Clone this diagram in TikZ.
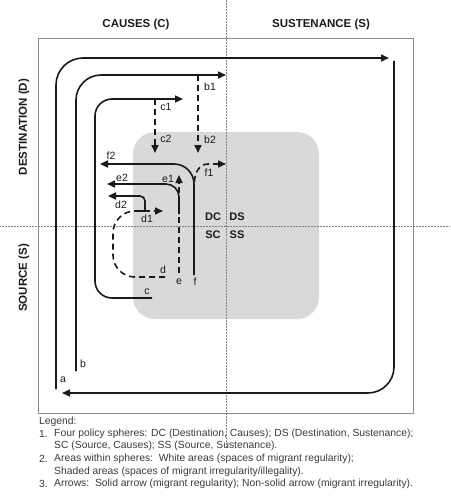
\documentclass[tikz,border=0pt]{standalone}
\usepackage{fontspec}
\setmainfont{Liberation Sans}
\usetikzlibrary{arrows.meta}
\definecolor{areagray}{HTML}{D9D9D9}
\definecolor{boxgray}{HTML}{8C8C8C}
\definecolor{ink}{HTML}{1A1A1A}
\definecolor{legendink}{HTML}{3A3A3A}
\tikzset{
  flow/.style={line width=1.6pt, draw=ink, -{Triangle[length=8pt,width=7pt]}},
  plainline/.style={line width=1.6pt, draw=ink},
  irreg/.style={dash pattern=on 6pt off 4pt},
  guide/.style={draw=gray, line width=0.5pt, dash pattern=on 0.6pt off 0.9pt},
  head/.style={font=\fontsize{11.5}{13}\selectfont\bfseries, text=ink, inner sep=0pt},
  lab/.style={font=\fontsize{10.5}{12}\selectfont, text=ink, inner sep=0pt},
  sphere/.style={font=\fontsize{11}{12}\selectfont\bfseries, text=ink, inner sep=0pt},
  legendtext/.style={font=\fontsize{10.35}{12.5}\selectfont, text=legendink, inner sep=0pt, anchor=west}
}
\begin{document}
\begin{tikzpicture}[x=1pt,y=-1pt]
\useasboundingbox (0,0) rectangle (450,503);
% shaded area
\fill[areagray, rounded corners=22pt] (133,132) rectangle (319,319);
% outer box
\draw[boxgray, line width=0.7pt] (38,38) rectangle (413,413);
% guides
\draw[guide] (226,0) -- (226,448);
\draw[guide] (0,226) -- (450,226);
% headers
\node[head] (hc) at (136,25) {CAUSES (C)};
\node[head] (hs) at (321,25) {SUSTENANCE (S)};
\node[head, rotate=90] (hd) at (24,127) {DESTINATION (D)};
\node[head, rotate=90] (hso) at (24,278) {SOURCE (S)};
% spheres
\node[sphere] (dc) at (213,217) {DC};
\node[sphere] (ds) at (237,217) {DS};
\node[sphere] (sc) at (213,235) {SC};
\node[sphere] (ss) at (237,235) {SS};
% coordinates
\coordinate (a0) at (56,389);
\coordinate (a1) at (56,58);
\coordinate (a2) at (389,58);
\coordinate (a3) at (394,61);
\coordinate (a4) at (394,393);
\coordinate (a5) at (62,393);
\coordinate (b0) at (76,371);
\coordinate (b1c) at (76,75);
\coordinate (b2c) at (226,75);
\coordinate (bb0) at (198,75);
\coordinate (bb1) at (198,153);
\coordinate (c0) at (152,298);
\coordinate (c1c) at (95,298);
\coordinate (c2c) at (95,99);
\coordinate (c3c) at (183,99);
\coordinate (cc0) at (155,99);
\coordinate (cc1) at (155,153);
\coordinate (f0) at (194,275);
\coordinate (f1c) at (194,164);
\coordinate (f2c) at (100,164);
\coordinate (ff0) at (194.5,182);
\coordinate (ff1) at (208,164);
\coordinate (ff2) at (226,164);
\coordinate (e0) at (179,273);
\coordinate (e1c) at (179,175);
\coordinate (ee0) at (179,214);
\coordinate (ee1) at (179,184);
\coordinate (ee2) at (107,184);
\coordinate (d0) at (165,277);
\coordinate (d1c) at (113,277);
\coordinate (d2c) at (113,211);
\coordinate (d3c) at (163,211);
\coordinate (dd0) at (145,211);
\coordinate (dd1) at (145,196);
\coordinate (dd2) at (108,196);
\coordinate (tk0) at (139,211);
\coordinate (tk1) at (148,211);
% paths
\draw[flow, rounded corners=27pt] (a0) -- (a1) -- (a2);
\draw[flow, rounded corners=26pt] (a3) -- (a4) -- (a5);
\draw[flow, rounded corners=25pt] (b0) -- (b1c) -- (b2c);
\draw[flow, irreg] (bb0) -- (bb1);
\draw[flow, rounded corners=17pt] (c0) -- (c1c) -- (c2c) -- (c3c);
\draw[flow, irreg] (cc0) -- (cc1);
\draw[flow, rounded corners=20pt] (f0) -- (f1c) -- (f2c);
\draw[flow, irreg] (ff0) to[out=90,in=180] (ff1) -- (ff2);
\draw[flow, irreg] (e0) -- (e1c);
\draw[flow, rounded corners=13pt] (ee0) -- (ee1) -- (ee2);
\draw[flow, irreg, rounded corners=22pt] (d0) -- (d1c) -- (d2c) -- (d3c);
\draw[flow, rounded corners=5pt] (dd0) -- (dd1) -- (dd2);
\draw[plainline] (tk0) -- (tk1);
% labels
\node[lab] (la) at (63,380) {a};
\node[lab] (lb) at (83,364) {b};
\node[lab] (lc) at (147,292) {c};
\node[lab] (ld) at (163,270) {d};
\node[lab] (le) at (179,282) {e};
\node[lab] (lf) at (195,282) {f};
\node[lab] (lb1) at (210,87) {b1};
\node[lab] (lb2) at (210,140) {b2};
\node[lab] (lc1) at (166,107) {c1};
\node[lab] (lc2) at (166,139) {c2};
\node[lab] (lf1) at (209,173) {f1};
\node[lab] (lf2) at (111,156) {f2};
\node[lab] (le1) at (168,179) {e1};
\node[lab] (le2) at (122,178) {e2};
\node[lab] (ld1) at (147,219) {d1};
\node[lab] (ld2) at (121,205) {d2};
% legend
\node[legendtext] (leg0) at (39,422) {Legend:};
\node[legendtext] (leg1) at (39,434) {1.};
\node[legendtext] (leg1t) at (54,434) {Four policy spheres: DC (Destination, Causes); DS (Destination, Sustenance);};
\node[legendtext] (leg1u) at (54,446) {SC (Source, Causes); SS (Source, Sustenance).};
\node[legendtext] (leg2) at (39,459) {2.};
\node[legendtext] (leg2t) at (54,459) {Areas within spheres:\ \ White areas (spaces of migrant regularity);};
\node[legendtext] (leg2u) at (54,472) {Shaded areas (spaces of migrant irregularity/illegality).};
\node[legendtext] (leg3) at (39,484) {3.};
\node[legendtext] (leg3t) at (54,484) {Arrows:\ \ Solid arrow (migrant regularity); Non-solid arrow (migrant irregularity).};
\end{tikzpicture}
\end{document}
